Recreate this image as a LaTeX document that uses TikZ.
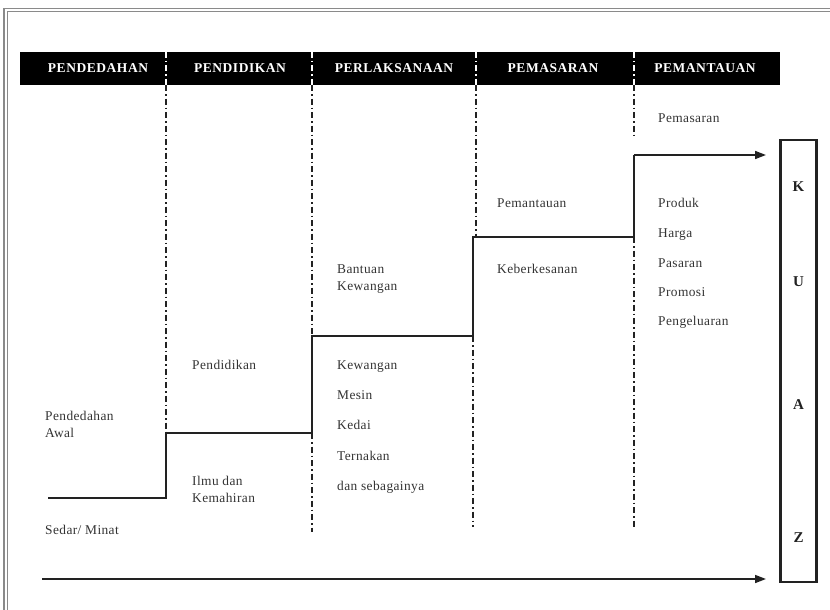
\documentclass[tikz,border=0pt]{standalone}
\usepackage{fontspec}
\setmainfont{Liberation Serif}
\newfontfamily\bodyfont[LetterSpace=3]{Liberation Serif}
\newfontfamily\headfont[LetterSpace=4]{Liberation Serif}
\usetikzlibrary{arrows.meta}
\definecolor{ink}{HTML}{222222}
\definecolor{txt}{HTML}{333333}
\definecolor{framegray}{HTML}{8A8A8A}
\begin{document}
\begin{tikzpicture}[x=1pt,y=-1pt,
  lbl/.style={anchor=base west,inner sep=0pt,text=txt,font=\bodyfont\fontsize{13.4}{17.5}\selectfont,align=left},
  hdr/.style={text=white,font=\headfont\bfseries\fontsize{13.5}{16}\selectfont,inner sep=0pt},
  letter/.style={text=ink,font=\bfseries\fontsize{15}{16}\selectfont,inner sep=0pt},
  divider/.style={draw=ink,line width=1.3pt,dash pattern=on 6pt off 3pt on 1.5pt off 3pt},
  hdivider/.style={draw=white,line width=1.3pt,dash pattern=on 6pt off 3pt on 1.5pt off 3pt},
  stair/.style={draw=ink,line width=1.4pt},
  flow/.style={draw=ink,line width=1.6pt,-{Triangle[length=11pt,width=8pt]}}]
\useasboundingbox (0,0) rectangle (830,610);
% outer frame
\draw[framegray,line width=1.6pt] (4,8.5) rectangle (845,625);
\draw[framegray,line width=1.2pt] (7.2,11.6) rectangle (842,622);
% header bar
\fill[black] (20,52) rectangle (780,85);
\node[hdr] (h1) at (98,68) {PENDEDAHAN};
\node[hdr] (h2) at (240,68) {PENDIDIKAN};
\node[hdr] (h3) at (394,68) {PERLAKSANAAN};
\node[hdr] (h4) at (553,68) {PEMASARAN};
\node[hdr] (h5) at (705,68) {PEMANTAUAN};
% dividers inside bar (white)
\foreach \x in {166,312,476,634} \draw[hdivider] (\x,52) -- (\x,85);
% dividers below bar
\coordinate (d1a) at (166,85); \coordinate (d1b) at (166,433);
\coordinate (d2a) at (312,85); \coordinate (d2b) at (312,336);
\coordinate (d2c) at (312,433); \coordinate (d2d) at (312,532);
\coordinate (d3a) at (476,85); \coordinate (d3b) at (476,237);
\coordinate (d3c) at (473,336); \coordinate (d3d) at (473,527);
\coordinate (d4a) at (634,85); \coordinate (d4b) at (634,138);
\coordinate (d4c) at (634,237); \coordinate (d4d) at (634,528);
\draw[divider] (d1a) -- (d1b);
\draw[divider] (d2a) -- (d2b);
\draw[divider] (d2c) -- (d2d);
\draw[divider] (d3a) -- (d3b);
\draw[divider] (d3c) -- (d3d);
\draw[divider] (d4a) -- (d4b);
\draw[divider] (d4c) -- (d4d);
% staircase
\coordinate (s0) at (48,498);
\coordinate (s1) at (166,498);
\coordinate (s2) at (166,433);
\coordinate (s3) at (312,433);
\coordinate (s4) at (312,336);
\coordinate (s5) at (473,336);
\coordinate (s6) at (473,237);
\coordinate (s7) at (634,237);
\coordinate (s8) at (634,155);
\coordinate (s9) at (766,155);
\draw[stair] (s0) -- (s1) -- (s2) -- (s3) -- (s4) -- (s5) -- (s6) -- (s7) -- (s8);
\draw[flow] (s8) -- (s9);
% bottom arrow
\coordinate (b0) at (42,579);
\coordinate (b1) at (766,579);
\draw[flow] (b0) -- (b1);
% KUAZ box
\node[draw=ink,line width=2.4pt,minimum width=36pt,minimum height=442pt,inner sep=0pt] (kuaz) at (798.5,361) {};
\node[letter] (kK) at (798.5,187) {K};
\node[letter] (kU) at (798.5,282) {U};
\node[letter] (kA) at (798.5,405) {A};
\node[letter] (kZ) at (798.5,538) {Z};
% column texts (multi-line nodes: base = last line)
\node[lbl] (t1) at (45,437.5) {Pendedahan\\Awal};
\node[lbl] (t2) at (45,534) {Sedar/ Minat};
\node[lbl] (t3) at (192,369) {Pendidikan};
\node[lbl] (t4) at (192,502.5) {Ilmu dan\\Kemahiran};
\node[lbl] (t5) at (337,290.5) {Bantuan\\Kewangan};
\node[lbl] (t6) at (337,369) {Kewangan};
\node[lbl] (t7) at (337,399) {Mesin};
\node[lbl] (t8) at (337,429) {Kedai};
\node[lbl] (t9) at (337,460) {Ternakan};
\node[lbl] (t10) at (337,490) {dan sebagainya};
\node[lbl] (t11) at (497,207) {Pemantauan};
\node[lbl] (t12) at (497,273) {Keberkesanan};
\node[lbl] (t13) at (658,122) {Pemasaran};
\node[lbl] (t14) at (658,207) {Produk};
\node[lbl] (t15) at (658,237) {Harga};
\node[lbl] (t16) at (658,267) {Pasaran};
\node[lbl] (t17) at (658,296) {Promosi};
\node[lbl] (t18) at (658,325) {Pengeluaran};
\end{tikzpicture}
\end{document}
